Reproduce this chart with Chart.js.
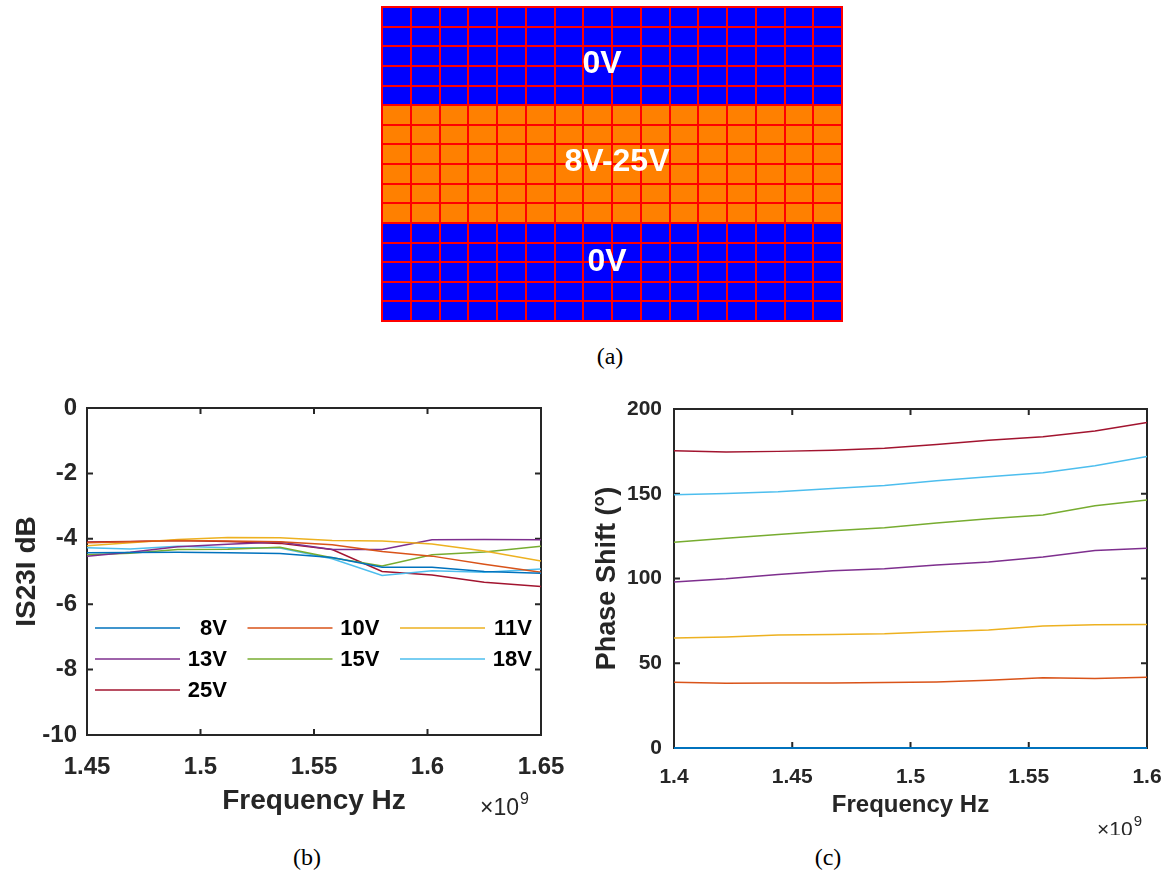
<!DOCTYPE html>
<html>
<head>
<meta charset="utf-8">
<script src="https://cdn.jsdelivr.net/npm/chart.js@4.4.1/dist/chart.umd.min.js"></script>
<style>
  body { margin: 0; background: #fff; width: 1168px; height: 875px; position: relative; overflow: hidden; }
  .panel { position: absolute; }
  .panel canvas { display: block; }
  .cap { position: absolute; font: 24px "Liberation Serif", "Times New Roman", serif; color: #000; transform: translate(-50%, -50%); }
</style>
</head>
<body>
<div class="panel" style="left:381px;top:6px;border:1px solid #ff0000;"><canvas id="gridChart" width="460" height="314"></canvas></div>
<div class="panel" style="left:0px;top:392px;"><canvas id="s23Chart" width="575" height="443"></canvas></div>
<div class="panel" style="left:580px;top:393px;"><canvas id="phaseChart" width="588" height="442"></canvas></div>
<div class="cap" style="left:610px;top:356px;">(a)</div>
<div class="cap" style="left:307px;top:857px;">(b)</div>
<div class="cap" style="left:828px;top:857px;">(c)</div>
<script>
// (a) electrode grid, rows listed top to bottom
const gridColumns = ['1','2','3','4','5','6','7','8','9','10','11','12','13','14','15','16'];
const rowBands = ['0V','0V','0V','0V','0V',
                  '8V-25V','8V-25V','8V-25V','8V-25V','8V-25V','8V-25V',
                  '0V','0V','0V','0V','0V'];
const bandNames = ['0V', '8V-25V', '0V'];

// (b) |S23| in dB
const voltages = ['8V', '10V', '11V', '13V', '15V', '18V', '25V'];
const freqS23 = [1.45, 1.469, 1.49, 1.512, 1.535, 1.558, 1.58, 1.602, 1.625, 1.65];
const s23_8V  = [-4.43, -4.42, -4.41, -4.43, -4.45, -4.57, -4.87, -4.87, -5.00, -5.05];
const s23_10V = [-4.12, -4.09, -4.05, -4.07, -4.09, -4.18, -4.39, -4.53, -4.78, -5.02];
const s23_11V = [-4.21, -4.12, -4.02, -3.96, -3.97, -4.05, -4.07, -4.16, -4.37, -4.68];
const s23_13V = [-4.53, -4.41, -4.24, -4.17, -4.10, -4.33, -4.33, -4.03, -4.02, -4.03];
const s23_15V = [-4.49, -4.44, -4.33, -4.32, -4.26, -4.58, -4.83, -4.49, -4.40, -4.23];
const s23_18V = [-4.27, -4.31, -4.23, -4.27, -4.28, -4.61, -5.12, -4.98, -5.02, -4.92];
const s23_25V = [-4.10, -4.08, -4.05, -4.08, -4.14, -4.33, -5.00, -5.11, -5.33, -5.46];

// (c) phase shift in degrees
const freqPhase = [1.4, 1.422, 1.444, 1.467, 1.489, 1.511, 1.533, 1.556, 1.578, 1.6];
const phase8V  = [0, 0, 0, 0, 0, 0, 0, 0, 0, 0];
const phase10V = [38.8, 38.2, 38.4, 38.4, 38.6, 39.0, 40.0, 41.4, 41.0, 41.8];
const phase11V = [64.9, 65.5, 66.7, 67.0, 67.4, 68.6, 69.6, 72.0, 72.7, 72.9];
const phase13V = [98.0, 99.8, 102.4, 104.5, 105.7, 108.0, 109.8, 112.7, 116.5, 117.8];
const phase15V = [121.4, 123.7, 125.9, 128.2, 130.0, 132.7, 135.3, 137.4, 142.9, 146.3];
const phase18V = [149.4, 150.2, 151.2, 153.1, 154.9, 157.6, 160.0, 162.4, 166.5, 172.0];
const phase25V = [175.3, 174.7, 175.0, 175.7, 176.9, 179.0, 181.6, 183.7, 187.0, 192.0];

const lineColors = ['#0072BD', '#D95319', '#EDB120', '#7E2F8E', '#77AC30', '#4DBEEE', '#A2142F'];
const bandColors = {'0V': '#0000FF', '8V-25V': '#FF8000'};
const FONT = '"Liberation Sans", Arial, Helvetica, sans-serif';
const INK = '#262626';

Chart.defaults.font.family = FONT;
Chart.defaults.color = INK;
Chart.defaults.animation = false;

// ---------- (a) grid ----------
const nRows = rowBands.length;
const gridSets = [];
for (let r = nRows - 1; r >= 0; r--) {   // stack from the bottom row up
  gridSets.push({
    label: rowBands[r],
    data: gridColumns.map(() => 1),
    backgroundColor: bandColors[rowBands[r]],
    borderWidth: 0,
    barPercentage: 1,
    categoryPercentage: 1
  });
}

const bandText = {
  id: 'bandText',
  afterDraw(chart, args, opts) {
    const {ctx, scales: {x, y}} = chart;
    // row span of each band, top to bottom
    const spans = [];
    rowBands.forEach((b, i) => {
      const last = spans[spans.length - 1];
      if (last && last.name === b) last.end = i; else spans.push({name: b, start: i, end: i});
    });
    ctx.save();
    ctx.fillStyle = '#fff';
    ctx.font = 'bold 32px ' + FONT;
    ctx.textAlign = 'center';
    ctx.textBaseline = 'middle';
    spans.forEach((s, k) => {
      const mid = nRows - (s.start + s.end + 1) / 2;
      const nudge = opts.nudges[k] || [0, 0];
      const px = (x.left + x.right) / 2 + nudge[0];
      const py = y.getPixelForValue(mid) + nudge[1];
      ctx.fillText(bandNames[k], px, py);
    });
    ctx.restore();
  }
};

const redGrid = { color: '#FF0000', lineWidth: 2, drawTicks: false, z: 1 };
new Chart('gridChart', {
  type: 'bar',
  data: { labels: gridColumns, datasets: gridSets },
  options: {
    responsive: false,
    layout: { padding: 0 },
    plugins: { legend: { display: false }, tooltip: { enabled: false },
               bandText: { nudges: [[-10, 8], [5, -2], [-5, -10]] } },
    scales: {
      x: { stacked: true, grid: Object.assign({ offset: true }, redGrid),
           ticks: { display: false }, border: { display: false } },
      y: { stacked: true, min: 0, max: nRows, grid: redGrid,
           ticks: { display: false, stepSize: 1 }, border: { display: false } }
    }
  },
  plugins: [bandText]
});

// ---------- shared helpers for (b) and (c) ----------
const axisFrame = {
  id: 'axisFrame',
  beforeDatasetsDraw(chart) {
    const {ctx, chartArea: a, scales} = chart;
    const tl = 6;
    ctx.save();
    ctx.strokeStyle = INK;
    ctx.lineWidth = 2;
    ctx.beginPath();
    scales.x.ticks.forEach(t => {
      const p = scales.x.getPixelForValue(t.value);
      ctx.moveTo(p, a.bottom); ctx.lineTo(p, a.bottom - tl);
      ctx.moveTo(p, a.top); ctx.lineTo(p, a.top + tl);
    });
    scales.y.ticks.forEach(t => {
      const p = scales.y.getPixelForValue(t.value);
      ctx.moveTo(a.left, p); ctx.lineTo(a.left + tl, p);
      ctx.moveTo(a.right, p); ctx.lineTo(a.right - tl, p);
    });
    ctx.stroke();
    ctx.strokeRect(a.left, a.top, a.right - a.left, a.bottom - a.top);
    ctx.restore();
  }
};

const exponentLabel = {
  id: 'exponentLabel',
  afterDraw(chart, args, o) {
    const {ctx, chartArea: a} = chart;
    ctx.save();
    ctx.fillStyle = INK;
    ctx.textAlign = 'right';
    ctx.textBaseline = 'alphabetic';
    const xr = a.right + o.dx, yb = a.bottom + o.dy;
    ctx.font = o.supSize + 'px ' + FONT;
    ctx.fillText('9', xr, yb - o.raise);
    const w9 = ctx.measureText('9').width;
    ctx.font = o.size + 'px ' + FONT;
    ctx.fillText('\u00d710', xr - w9 - 1, yb);
    ctx.restore();
  }
};

const gridLegend = {
  id: 'gridLegend',
  afterDatasetsDraw(chart) {
    const {ctx, chartArea: a} = chart;
    ctx.save();
    ctx.font = 'bold 22px ' + FONT;
    ctx.textAlign = 'right';
    ctx.textBaseline = 'middle';
    chart.data.datasets.forEach((ds, i) => {
      const col = i % 3, row = Math.floor(i / 3);
      const x0 = a.left + 8 + col * 152.5;
      const yy = a.top + 220 + row * 31;
      ctx.strokeStyle = ds.borderColor;
      ctx.lineWidth = 1.5;
      ctx.beginPath();
      ctx.moveTo(x0, yy); ctx.lineTo(x0 + 85, yy);
      ctx.stroke();
      ctx.fillStyle = '#000';
      ctx.fillText(ds.label, x0 + 132, yy + 1);
    });
    ctx.restore();
  }
};

function toPoints(xs, ys) { return xs.map((x, i) => ({x: x, y: ys[i]})); }
function fmtFreq(v) { return String(+v.toFixed(2)); }
// fixed axis sizes so the plot box lands where it should
function fixX(h) { return s => { s.height = h; s.paddingLeft = 0; s.paddingRight = 0; s.paddingTop = 0; s.paddingBottom = 0; }; }
function fixY(w) { return s => { s.width = w; s.paddingLeft = 0; s.paddingRight = 0; s.paddingTop = 0; s.paddingBottom = 0; }; }

// ---------- (b) |S23| ----------
const s23Series = [s23_8V, s23_10V, s23_11V, s23_13V, s23_15V, s23_18V, s23_25V];
new Chart('s23Chart', {
  type: 'line',
  data: {
    datasets: s23Series.map((ys, i) => ({
      label: voltages[i],
      data: toPoints(freqS23, ys),
      borderColor: lineColors[i],
      borderWidth: 1.5,
      pointRadius: 0,
      fill: false,
      tension: 0
    }))
  },
  options: {
    responsive: false,
    layout: { padding: { top: 16, right: 34, left: 0, bottom: 0 } },
    plugins: { legend: { display: false }, tooltip: { enabled: false },
               exponentLabel: { dx: -12, dy: 80, size: 23, supSize: 16, raise: 11 } },
    scales: {
      x: {
        type: 'linear', min: 1.45, max: 1.65,
        grid: { display: false, drawTicks: false }, border: { display: false },
        ticks: { stepSize: 0.05, padding: 18, font: { size: 24, weight: 'bold' }, color: INK, callback: fmtFreq },
        title: { display: true, text: 'Frequency Hz', font: { size: 28, weight: 'bold' }, color: INK, padding: { top: 0, bottom: 17 } },
        afterFit: fixX(100)
      },
      y: {
        min: -10, max: 0,
        grid: { display: false, drawTicks: false }, border: { display: false },
        ticks: { stepSize: 2, padding: 10, font: { size: 24, weight: 'bold' }, color: INK },
        title: { display: true, text: 'IS23I dB', font: { size: 28, weight: 'bold' }, color: INK, padding: { top: 10, bottom: 0 } },
        afterFit: fixY(87)
      }
    }
  },
  plugins: [axisFrame, gridLegend, exponentLabel]
});

// ---------- (c) phase shift ----------
const phaseSeries = [phase8V, phase10V, phase11V, phase13V, phase15V, phase18V, phase25V];
new Chart('phaseChart', {
  type: 'line',
  data: {
    datasets: phaseSeries.map((ys, i) => ({
      label: voltages[i],
      data: toPoints(freqPhase, ys),
      borderColor: lineColors[i],
      borderWidth: i === 0 ? 2 : 1.5,
      pointRadius: 0,
      fill: false,
      tension: 0,
      clip: 3
    }))
  },
  options: {
    responsive: false,
    layout: { padding: { top: 16, right: 21, left: 0, bottom: 0 } },
    plugins: { legend: { display: false }, tooltip: { enabled: false },
               exponentLabel: { dx: -5, dy: 88, size: 21, supSize: 15, raise: 10 } },
    scales: {
      x: {
        type: 'linear', min: 1.4, max: 1.6,
        grid: { display: false, drawTicks: false }, border: { display: false },
        ticks: { stepSize: 0.05, padding: 17, font: { size: 21, weight: 'bold' }, color: INK, callback: fmtFreq },
        title: { display: true, text: 'Frequency Hz', font: { size: 24, weight: 'bold' }, color: INK, padding: { top: 0, bottom: 15 } },
        afterFit: fixX(87)
      },
      y: {
        min: 0, max: 200,
        grid: { display: false, drawTicks: false }, border: { display: false },
        ticks: { stepSize: 50, padding: 12, font: { size: 21, weight: 'bold' }, color: INK },
        title: { display: true, text: 'Phase Shift (\u00b0)', font: { size: 27, weight: 'bold' }, color: INK, padding: { top: 11, bottom: 0 } },
        afterFit: fixY(94)
      }
    }
  },
  plugins: [axisFrame, exponentLabel]
});
</script>
</body>
</html>
